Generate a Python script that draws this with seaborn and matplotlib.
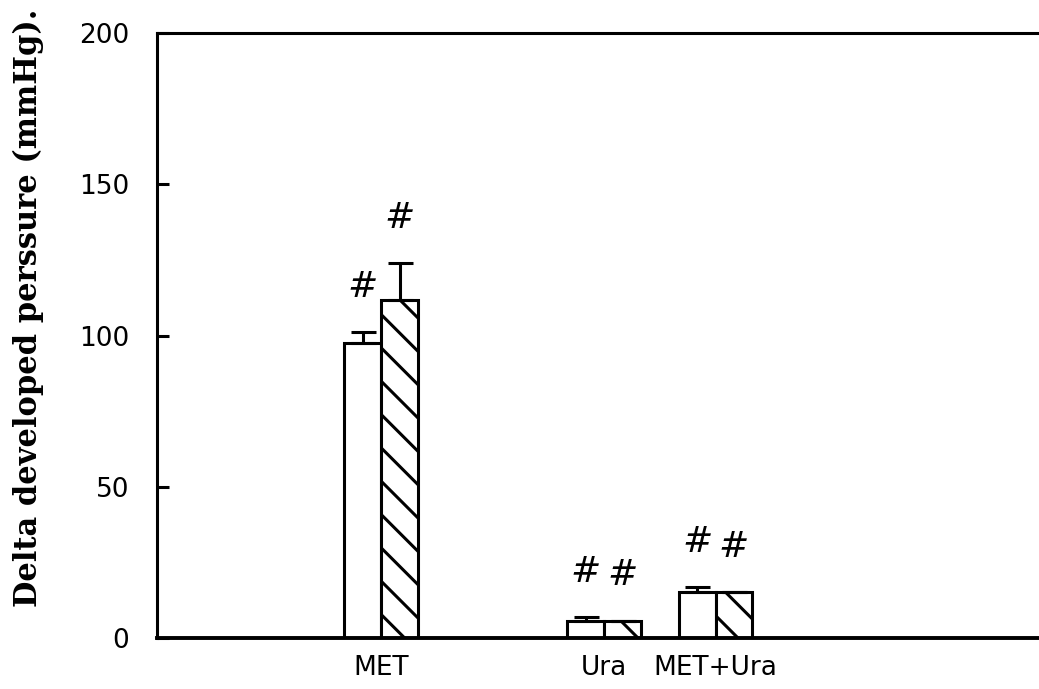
import numpy as np
import pandas as pd
import matplotlib
matplotlib.use("Agg")
import matplotlib.pyplot as plt
import seaborn as sns

# Treatment groups (a blank slot keeps the gap between MET and Ura)
groups = ["MET", "Ura", "MET+Ura"]
group_order = ["MET", " ", "Ura", "MET+Ura"]
series = ["open", "hatched"]

# Mean change in developed pressure (mmHg) and upper SEM
open_mean = [97.5, 5.7, 15.1]
open_sem = [3.6, 1.2, 1.7]
hatched_mean = [111.7, 5.7, 15.1]
hatched_sem = [12.2, 0.0, 0.0]

y_ticks = [0, 50, 100, 150, 200]
y_label = "Delta developed perssure (mmHg)."
marker = "#"

df = pd.DataFrame({
    "group": groups * 2,
    "series": [series[0]] * 3 + [series[1]] * 3,
    "value": open_mean + hatched_mean,
    "sem": open_sem + hatched_sem,
})

sns.set_theme(style="white")
plt.rcParams["font.family"] = ["DejaVu Sans"]
plt.rcParams["hatch.linewidth"] = 1.1
plt.rcParams["hatch.color"] = "black"

DPI = 200
fig = plt.figure(figsize=(1039 / DPI, 689 / DPI), dpi=DPI)
ax = fig.add_axes([157 / 1039, 1 - 638 / 689, 882 / 1039, (638 - 33) / 689])

sns.barplot(
    data=df, x="group", y="value", hue="series",
    order=group_order, hue_order=series,
    palette=["white", "white"], edgecolor="black", linewidth=1.1,
    width=0.66, gap=0, errorbar=None, legend=False, ax=ax,
    saturation=1,
)

# hatch the second series
for bar in ax.containers[1]:
    bar.set_hatch("\\\\")

# upper-only error bars and significance markers
for container, sub in zip(ax.containers, [df[df.series == s] for s in series]):
    sub = sub.set_index("group").loc[groups]
    bars = [b for b in container if not np.isnan(b.get_height())]
    xs = [b.get_x() + b.get_width() / 2 for b in bars]
    tops = sub["value"].to_numpy()
    errs = sub["sem"].to_numpy()
    ax.errorbar(xs, tops, yerr=[np.zeros_like(errs), errs], fmt="none",
                ecolor="black", elinewidth=1.1, capsize=4.5, capthick=1.1)
    for x, t, e in zip(xs, tops, errs):
        ax.text(x, t + e + 15, marker, ha="center", va="center",
                fontsize=13, style="italic", color="black")

ax.set_ylim(0, 200)
ax.set_xlim(-2.01, 5.90)
ax.set_yticks(y_ticks)
ax.set_yticklabels([str(v) for v in y_ticks])
ax.set_xlabel("")

ax.tick_params(axis="y", direction="in", length=4.3, width=1.1,
               pad=10, labelsize=9.5, left=True, colors="black")
ax.tick_params(axis="x", length=0, pad=6, labelsize=9.5, colors="black")

for side in ["left", "top"]:
    ax.spines[side].set_linewidth(1.1)
    ax.spines[side].set_color("black")
ax.spines["bottom"].set_linewidth(1.4)
ax.spines["bottom"].set_color("black")
ax.spines["right"].set_visible(False)

ax.set_ylabel(y_label, family=["DejaVu Serif"], fontweight="bold",
              fontsize=11, color="black")
ax.yaxis.label.set_verticalalignment("center")
ax.yaxis.set_label_coords((28 - 157) / 882, (638 - 308) / 605)

fig.savefig("out.png", dpi=DPI, facecolor="white")
